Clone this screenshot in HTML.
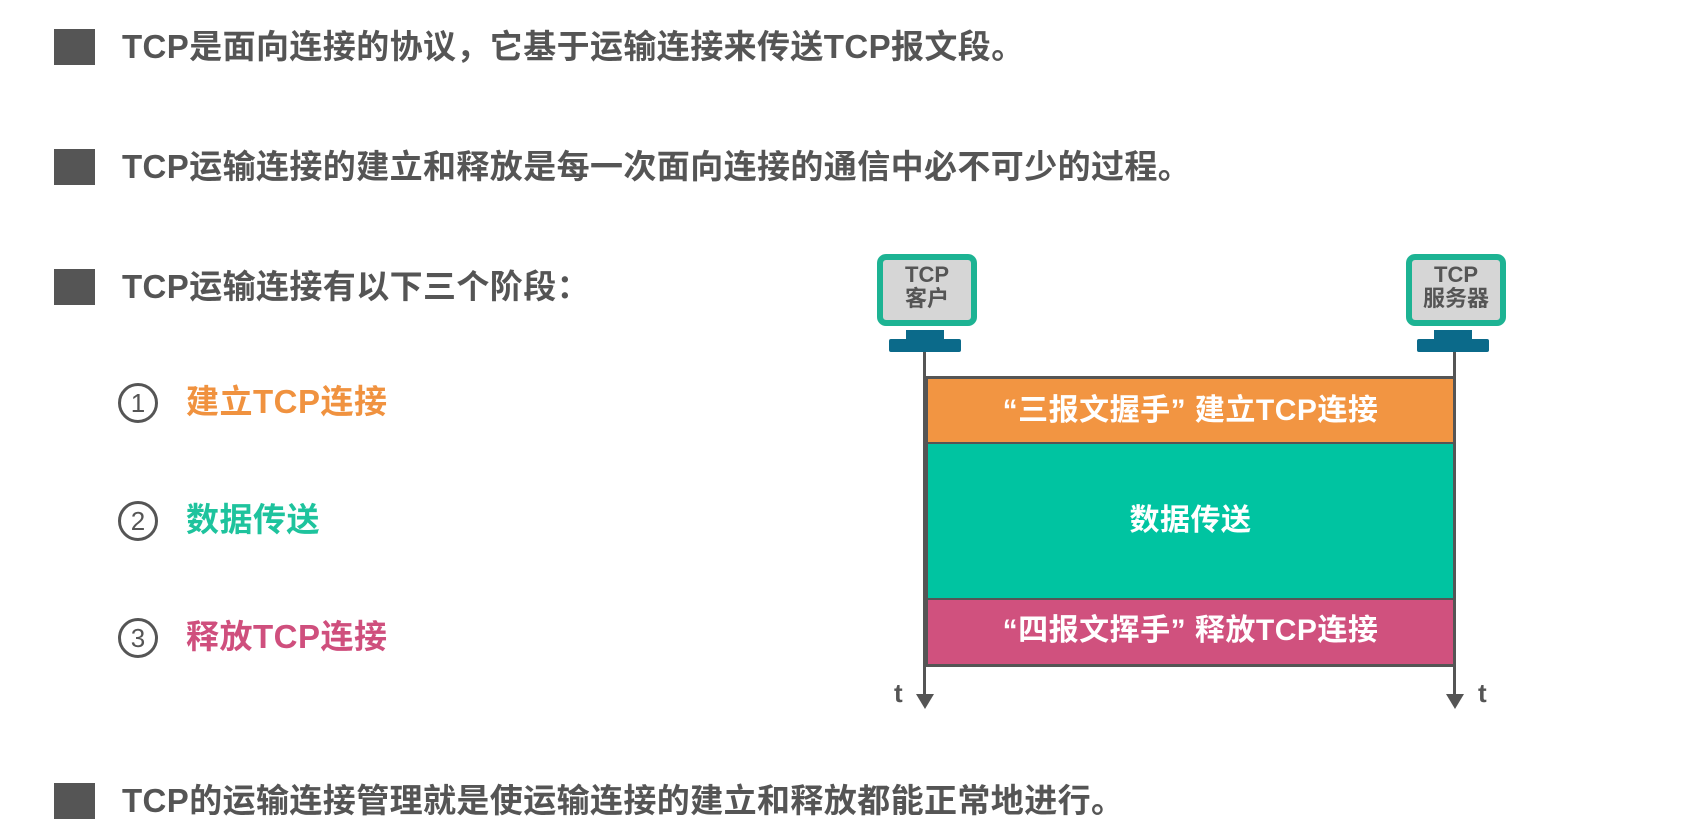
<!DOCTYPE html>
<html><head><meta charset="utf-8"><style>
body{margin:0;width:1681px;height:836px;background:#fff;position:relative;overflow:hidden;font-family:"Liberation Sans","Noto Sans CJK SC",sans-serif;font-weight:bold}
.a{position:absolute}
.sq{position:absolute;left:54px;width:41px;height:36px;background:#555}
.t{position:absolute;left:122px;font-size:33px;line-height:36px;color:#555;letter-spacing:0.4px;white-space:nowrap}
.c{position:absolute;left:118px;width:34px;height:34px;border:3px solid #555;border-radius:50%;color:#555;font-size:26px;line-height:34px;text-align:center;font-weight:normal}
.s{position:absolute;left:186px;font-size:33px;line-height:36px;white-space:nowrap;letter-spacing:0.5px}
.mon{position:absolute;width:88px;height:57px;border:6px solid #1db393;border-radius:9px;background:#d6d6d6;color:#555;font-size:22px;line-height:24px;text-align:center;padding-top:3px;box-sizing:content-box}
.bar{position:absolute;left:925px;width:531px;color:#fff;text-align:center;font-size:30px;box-sizing:border-box;border-left:3px solid #555;border-right:3px solid #555;letter-spacing:0.5px}
</style></head><body>
<div class="sq" style="top:29px"></div><div class="t" style="top:29px">TCP是面向连接的协议，它基于运输连接来传送TCP报文段。</div>
<div class="sq" style="top:149px"></div><div class="t" style="top:149px">TCP运输连接的建立和释放是每一次面向连接的通信中必不可少的过程。</div>
<div class="sq" style="top:269px"></div><div class="t" style="top:269px">TCP运输连接有以下三个阶段：</div>
<div class="sq" style="top:783px"></div><div class="t" style="top:783px">TCP的运输连接管理就是使运输连接的建立和释放都能正常地进行。</div>

<div class="c" style="top:383px">1</div><div class="s" style="top:384px;color:#f0923f">建立TCP连接</div>
<div class="c" style="top:501px">2</div><div class="s" style="top:502px;color:#1ec39d">数据传送</div>
<div class="c" style="top:618px">3</div><div class="s" style="top:619px;color:#cf4f7d">释放TCP连接</div>

<div class="mon" style="left:877px;top:254px">TCP<br>客户</div>
<div class="a" style="left:906px;top:330px;width:38px;height:10px;background:#0b6a8a"></div>
<div class="a" style="left:889px;top:339px;width:72px;height:13px;background:#0b6a8a;border-radius:2px"></div>
<div class="mon" style="left:1406px;top:254px">TCP<br>服务器</div>
<div class="a" style="left:1434px;top:330px;width:38px;height:10px;background:#0b6a8a"></div>
<div class="a" style="left:1417px;top:339px;width:72px;height:13px;background:#0b6a8a;border-radius:2px"></div>

<div class="a" style="left:923px;top:352px;width:3px;height:346px;background:#555"></div>
<div class="a" style="left:1453px;top:352px;width:3px;height:346px;background:#555"></div>

<div class="bar" style="top:376px;height:68px;background:#f29542;border-top:3px solid #555;border-bottom:2px solid #555;line-height:63px">“三报文握手”&nbsp;建立TCP连接</div>
<div class="bar" style="top:444px;height:156px;background:#00c4a1;border-bottom:2px solid #555;line-height:154px">数据传送</div>
<div class="bar" style="top:600px;height:67px;background:#d0517e;border-bottom:3px solid #555;line-height:62px">“四报文挥手”&nbsp;释放TCP连接</div>

<svg class="a" style="left:0;top:0" width="1681" height="836">
<polygon points="916,694 934,694 925,709" fill="#555"/>
<polygon points="1446,694 1464,694 1455,709" fill="#555"/>
</svg>
<div class="a" style="left:894px;top:678px;font-size:26px;color:#555">t</div>
<div class="a" style="left:1478px;top:678px;font-size:26px;color:#555">t</div>
</body></html>
